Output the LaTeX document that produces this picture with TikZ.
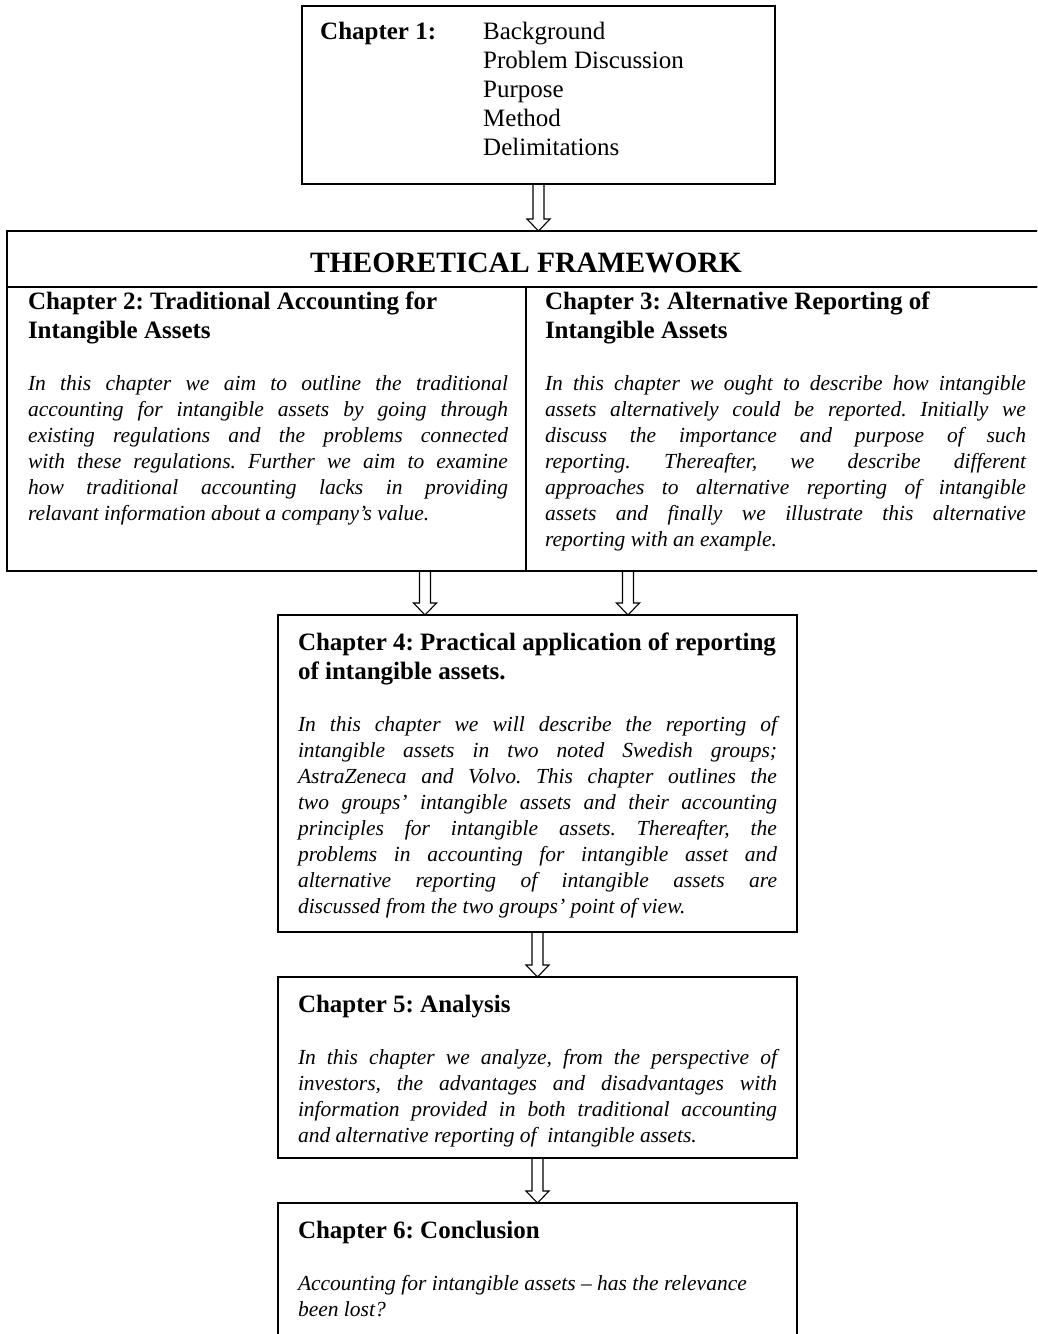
\documentclass[tikz,border=0pt]{standalone}
\usepackage{fontspec}
\setmainfont{Liberation Serif}
\usetikzlibrary{calc}

\newcommand{\headfont}{\fontsize{25}{29}\selectfont\bfseries}
\newcommand{\bodyfont}{\fontsize{21.5}{26}\selectfont\itshape}
\newcommand{\chtext}[2]{\frenchspacing\tolerance=10000\hbadness=10000\hyphenpenalty=10000%
  {\headfont #1\par}\vspace{26pt}{\bodyfont #2\par}}
\newcommand{\blockarrow}[2]{%
  \draw[hollow] ($(#1)+(-5.5,0)$) -- ($(#2)+(-5.5,-12)$) -- ($(#2)+(-11.5,-12)$) -- (#2)
    -- ($(#2)+(11.5,-12)$) -- ($(#2)+(5.5,-12)$) -- ($(#1)+(5.5,0)$);}

\tikzset{
  frame/.style={draw, line width=1.5pt, anchor=north west, inner sep=0pt, outer sep=0pt},
  bodytext/.style={anchor=north west, inner sep=0pt, outer sep=0pt, align=justify, text width=#1},
  bodytext/.default=479pt,
  hollow/.style={draw, line width=1.1pt, line join=miter},
}

\begin{document}
\begin{tikzpicture}[x=1pt,y=-1pt]
\path[use as bounding box] (0,0) rectangle (1037,1334);
\clip (0,0) rectangle (1037,1334);

% Chapter 1
\node[frame, minimum width=473pt, minimum height=178pt] (c1) at (302,6) {};
\node[anchor=base west, inner sep=0pt, font=\headfont] (c1h) at (320,39) {Chapter 1:};
\node[anchor=north west, inner sep=0pt, align=left, font=\fontsize{25}{29}\selectfont] (c1l) at (483,22)
  {Background\\Problem Discussion\\Purpose\\Method\\Delimitations};

% Theoretical framework
\node[frame, minimum width=1043pt, minimum height=56pt] (fwt) at (7,231) {};
\node[anchor=base, inner sep=0pt, font=\fontsize{29.5}{34}\selectfont\bfseries] (fwtitle) at (526,272) {THEORETICAL FRAMEWORK};
\node[frame, minimum width=519pt, minimum height=284pt] (c2) at (7,287) {};
\node[frame, minimum width=524pt, minimum height=284pt] (c3) at (526,287) {};

\node[bodytext=480pt] (c2t) at (28,292) {\chtext{Chapter 2: Traditional Accounting for\newline Intangible Assets}{%
In this chapter we aim to outline the traditional\linebreak
accounting for intangible assets by going through\linebreak
existing regulations and the problems connected\linebreak
with these regulations. Further we aim to examine\linebreak
how traditional accounting lacks in providing\linebreak
relavant information about a company’s value.}};

\node[bodytext=481pt] (c3t) at (545,292) {\chtext{Chapter 3: Alternative Reporting of\newline Intangible Assets}{%
In this chapter we ought to describe how intangible\linebreak
assets alternatively could be reported. Initially we\linebreak
discuss the importance and purpose of such\linebreak
reporting. Thereafter, we describe different\linebreak
approaches to alternative reporting of intangible\linebreak
assets and finally we illustrate this alternative\linebreak
reporting with an example.}};

% Chapter 4
\node[frame, minimum width=519pt, minimum height=317pt] (c4) at (278,615) {};
\node[bodytext] (c4t) at (298,633) {\chtext{Chapter 4: Practical application of reporting\newline of intangible assets.}{%
In this chapter we will describe the reporting of\linebreak
intangible assets in two noted Swedish groups;\linebreak
AstraZeneca and Volvo. This chapter outlines the\linebreak
two groups’ intangible assets and their accounting\linebreak
principles for intangible assets. Thereafter, the\linebreak
problems in accounting for intangible asset and\linebreak
alternative reporting of intangible assets are\linebreak
discussed from the two groups’ point of view.}};

% Chapter 5
\node[frame, minimum width=519pt, minimum height=181pt] (c5) at (278,977) {};
\node[bodytext] (c5t) at (298,995) {\chtext{Chapter 5: Analysis}{%
In this chapter we analyze, from the perspective of\linebreak
investors, the advantages and disadvantages with\linebreak
information provided in both traditional accounting\linebreak
and alternative reporting of~ intangible assets.}};

% Chapter 6
\node[frame, minimum width=519pt, minimum height=150pt] (c6) at (278,1203) {};
\node[bodytext] (c6t) at (298,1221) {\chtext{Chapter 6: Conclusion}{%
Accounting for intangible assets – has the relevance\newline
been lost?}};

% Arrows
\coordinate (a1e) at (c1.south |- fwt.north);
\coordinate (a2s) at (425,571);
\coordinate (a2e) at (a2s |- c4.north);
\coordinate (a3s) at (628,571);
\coordinate (a3e) at (a3s |- c4.north);
\blockarrow{c1.south}{a1e}
\blockarrow{a2s}{a2e}
\blockarrow{a3s}{a3e}
\blockarrow{c4.south}{c5.north}
\blockarrow{c5.south}{c6.north}
\end{tikzpicture}
\end{document}
